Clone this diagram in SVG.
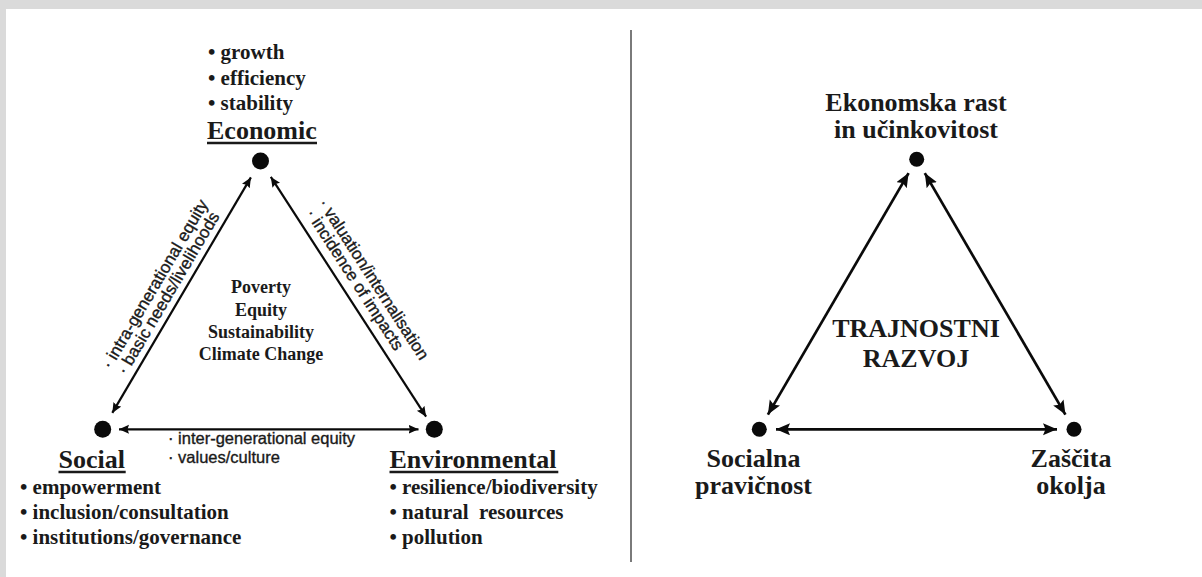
<svg xmlns="http://www.w3.org/2000/svg" width="1202" height="577" viewBox="0 0 1202 577">
<style>
.ser{font-family:"Liberation Serif","Times New Roman",serif;font-weight:bold;fill:#1a1a1a}
.head{font-size:26px}
.list{font-size:21px}
.mid{font-size:18px;text-anchor:middle}
.big{font-size:26px;text-anchor:middle}
.sans{font-family:"Liberation Sans",Arial,sans-serif;font-size:17px;fill:#1a1a1a;stroke:#1a1a1a;stroke-width:0.35}
.ul{stroke:#1a1a1a;stroke-width:2.4}
.dot{fill:#0a0a0a}
.ea{stroke:#0a0a0a;stroke-width:2.2;fill:none;marker-start:url(#ahs);marker-end:url(#ahs)}
.eb{stroke:#0a0a0a;stroke-width:2.7;fill:none;marker-start:url(#ahb);marker-end:url(#ahb)}
</style>
<defs>
<marker id="ahs" markerUnits="userSpaceOnUse" markerWidth="12" markerHeight="10" refX="10" refY="4.5" orient="auto-start-reverse"><path d="M0,0 L10,4.5 L0,9 L1.5,4.5 z" fill="#0a0a0a"/></marker>
<marker id="ahb" markerUnits="userSpaceOnUse" markerWidth="16" markerHeight="14" refX="14" refY="6" orient="auto-start-reverse"><path d="M0,0 L14,6 L0,12 L2.5,6 z" fill="#0a0a0a"/></marker>
</defs>
<rect x="0" y="0" width="1202" height="577" fill="#ffffff"/>
<rect x="0" y="0" width="1202" height="9" fill="#dadada"/>
<rect x="0" y="0" width="6" height="577" fill="#dadada"/>
<line x1="631" y1="30" x2="631" y2="562" stroke="#7a7a7a" stroke-width="2"/>

<g id="connectors-left">
<line class="ea" x1="250.9" y1="177.4" x2="112.3" y2="412.9"/>
<line class="ea" x1="270.8" y1="176.9" x2="426.1" y2="416.7"/>
<line class="ea" x1="119" y1="429.3" x2="418.5" y2="429.3"/>
</g>
<g id="edge-labels-left" class="sans">
<g transform="translate(181.6,295.1) rotate(-59.5)">
<text x="-4" y="-23" text-anchor="middle">· intra-generational equity</text>
<text x="-5" y="-7" text-anchor="middle">· basic needs/livelihoods</text>
</g>
<g transform="translate(347.5,295) rotate(57.1)">
<text x="1" y="-25" text-anchor="middle">· valuation/internalisation</text>
<text x="-9" y="-9" text-anchor="middle">· incidence of impacts</text>
</g>
<text x="168" y="444" style="font-size:16.5px">· inter-generational equity</text>
<text x="168" y="463" style="font-size:16.5px">· values/culture</text>
</g>

<g id="node-economic">
<text class="ser list" x="208" y="59">• growth</text>
<text class="ser list" x="208" y="84.5">• efficiency</text>
<text class="ser list" x="208" y="110">• stability</text>
<text class="ser head" x="207" y="139">Economic</text>
<line class="ul" x1="207" y1="143" x2="317" y2="143"/>
<circle class="dot" cx="260.5" cy="161" r="8.5"/>
</g>
<g id="node-social">
<circle class="dot" cx="102.7" cy="429.3" r="8.5"/>
<text class="ser head" x="58.5" y="468">Social</text>
<line class="ul" x1="58.5" y1="472" x2="125.7" y2="472"/>
<text class="ser list" x="20" y="494">• empowerment</text>
<text class="ser list" x="20" y="519">• inclusion/consultation</text>
<text class="ser list" x="20" y="544">• institutions/governance</text>
</g>
<g id="node-environmental">
<circle class="dot" cx="434.3" cy="429.3" r="8.5"/>
<text class="ser head" x="389.5" y="468">Environmental</text>
<line class="ul" x1="389.5" y1="472" x2="558.3" y2="472"/>
<text class="ser list" x="389.5" y="494">• resilience/biodiversity</text>
<text class="ser list" x="389.5" y="519" style="white-space:pre">• natural  resources</text>
<text class="ser list" x="389.5" y="544">• pollution</text>
</g>
<g id="center-left" class="ser mid">
<text x="261" y="293">Poverty</text>
<text x="261" y="316">Equity</text>
<text x="261" y="338">Sustainability</text>
<text x="261" y="360">Climate Change</text>
</g>

<g id="connectors-right">
<line class="eb" x1="908.6" y1="173.1" x2="767.9" y2="414.6"/>
<line class="eb" x1="924.8" y1="173.1" x2="1065.4" y2="414.6"/>
<line class="eb" x1="776" y1="429.3" x2="1057" y2="429.3"/>
</g>
<g id="node-ekonomska">
<text class="ser big" x="916" y="111">Ekonomska rast</text>
<text class="ser big" x="916" y="138">in učinkovitost</text>
<circle class="dot" cx="916.7" cy="159.3" r="7.5"/>
</g>
<g id="node-socialna">
<circle class="dot" cx="759.3" cy="429.3" r="7.5"/>
<text class="ser big" x="753.5" y="466.5">Socialna</text>
<text class="ser big" x="753.5" y="494">pravičnost</text>
</g>
<g id="node-zascita">
<circle class="dot" cx="1074" cy="429.3" r="7.5"/>
<text class="ser big" x="1071" y="466.5">Zaščita</text>
<text class="ser big" x="1071" y="494">okolja</text>
</g>
<g id="center-right" class="ser big">
<text x="916" y="337">TRAJNOSTNI</text>
<text x="916" y="367">RAZVOJ</text>
</g>
</svg>
